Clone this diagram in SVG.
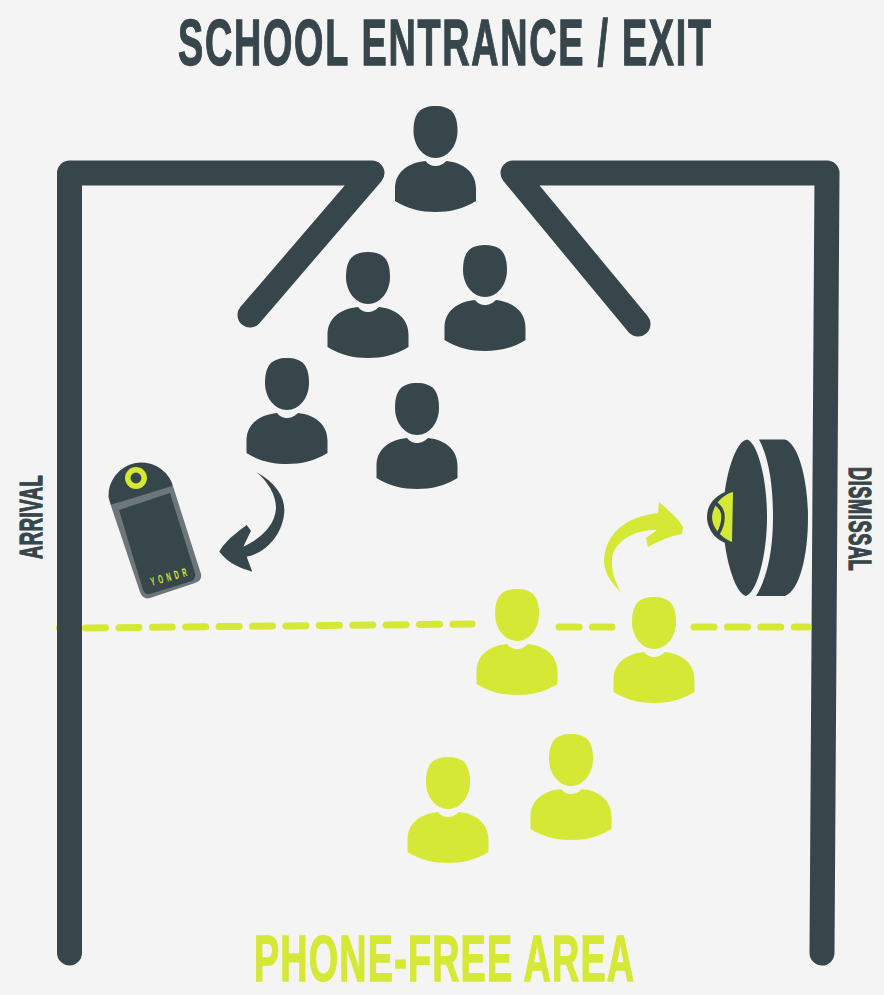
<svg xmlns="http://www.w3.org/2000/svg" width="884" height="995" viewBox="0 0 884 995">
<style>
.wall{fill:none;stroke:#37464b;stroke-width:25;stroke-linecap:round;stroke-linejoin:round}
.dash{fill:none;stroke:#d5e836;stroke-width:7;stroke-linecap:round;stroke-dasharray:20 13.4}
.t{font-family:"Liberation Sans",Arial,sans-serif;font-weight:700}
.dark{fill:#37464b}.lime{fill:#d5e836}
.heavy-dark{fill:#37464b;stroke:#37464b;stroke-width:1.3}
.heavy-lime{fill:#d5e836;stroke:#d5e836;stroke-width:1.3}
</style>
<defs>
<g id="person">
<path d="M0,0C15,0 22,7 22,25C22,40 12,52 0,52C-12,52 -22,40 -22,25C-22,7 -15,0 0,0Z"/>
<path d="M-10,55C-7,59 -3,60 0,60C3,60 7,59 11,55C28,57 40.5,66 40.5,83L40.5,95C28,103 14,106 0,106C-14,106 -28,103 -40.5,95L-40.5,83C-40.5,66 -28,57 -10,55Z"/>
</g>
</defs>
<rect width="884" height="995" fill="#f4f4f4"/>
<g id="connectors">
<path id="boundary-stub" d="M56,628H100" fill="none" stroke="#d5e836" stroke-width="4"/>
<path id="wall-left" class="wall" d="M69.5,953V173H372L250,315"/>
<path id="wall-right" class="wall" d="M822,953L827,173H513L638,324"/>
<path id="boundary-a" class="dash" d="M85.5,628L472,624"/>
<path id="boundary-b" class="dash" d="M559,627H612"/>
<path id="boundary-c" class="dash" d="M694,627H808"/>
<path id="arrow-in" class="dark" d="M256.7,472.3C276,483 285,497 284.3,511.7C283,534 266,553 246.7,556.7L252.3,571.7C241,568 230,565 219.3,551.7C225,541 236,533 246.7,525L251,530.7L243.3,546.7C262,538 275,525 276,508C276,495 268,482 256.7,472.3Z"/>
<path id="arrow-out" class="lime" d="M620.7,592C608,580 604,570 604,560C606,530 630,516 658,513L659,502C668,510 678,518 683,527L682,534C670,536 659,541 648,547L646,538L657,530C640,530 622,535 613,553C610,565 613,578 620.7,592Z"/>
</g>
<g id="title"><text class="t heavy-dark" transform="translate(178,64.5) scale(0.581,1)" font-size="65" letter-spacing="3">SCHOOL ENTRANCE / EXIT</text></g>
<g id="person-1" class="dark"><use href="#person" x="435.5" y="106"/></g>
<g id="person-2" class="dark"><use href="#person" x="368" y="252"/></g>
<g id="person-3" class="dark"><use href="#person" x="485" y="245"/></g>
<g id="person-4" class="dark"><use href="#person" x="287" y="358"/></g>
<g id="person-5" class="dark"><use href="#person" x="417" y="383"/></g>
<g id="person-6" class="lime"><use href="#person" x="517" y="589"/></g>
<g id="person-7" class="lime"><use href="#person" x="654" y="597"/></g>
<g id="person-8" class="lime"><use href="#person" x="448" y="757"/></g>
<g id="person-9" class="lime"><use href="#person" x="571" y="734"/></g>
<g id="pouch">
<path fill="#6d767b" d="M110.7,505L140,592Q143,600 150,598L195,583Q203,580 200.7,573L172,483Z"/>
<path class="dark" d="M110.7,505L108.5,497A33,33 0 0 1 172,483L172,486Z"/>
<path class="dark" d="M119,510L170,493L195,573Q196,578 192,581L150,594Q145,595 143,590Z"/>
<circle cx="136" cy="478" r="8.2" fill="none" stroke="#d5e836" stroke-width="5.5"/>
<text class="t" transform="translate(152,586) rotate(-16) scale(0.5,1)" font-size="12" letter-spacing="7.7" fill="#d5e836">YONDR</text>
</g>
<g id="lock">
<path class="dark" d="M747,439.5C735,441 723,480 723,517C723,555 735,594 746,596C757,592 767,555 767,517C767,480 758,443 747,439.5Z"/>
<path class="dark" d="M759,439.5L785,439.5C799,444 808,482 808,517C808,555 800,590 785,596L756,596C769,575 773,545 773,517C773,490 770,460 759,439.5Z"/>
<path class="dark" d="M733,490C715,493 707,505 707,517C707,530 717,543 733,545Z"/>
<path class="lime" d="M733,492C722,495 713,505 712,517C712,527 720,537 732,542Z"/>
<path fill="none" stroke="#37464b" stroke-width="3.5" d="M714,502C722,508 723,512 723,517C723,524 721,529 718,534"/>
</g>
<g id="labels">
<text class="t heavy-dark" transform="translate(42,559) rotate(-90) scale(0.575,1)" font-size="32" letter-spacing="1">ARRIVAL</text>
<text class="t heavy-dark" transform="translate(848.5,467) rotate(90) scale(0.587,1)" font-size="31" letter-spacing="1">DISMISSAL</text>
<text class="t heavy-lime" transform="translate(254,981.4) scale(0.59,1)" font-size="64" letter-spacing="2">PHONE-FREE AREA</text>
</g>
</svg>
